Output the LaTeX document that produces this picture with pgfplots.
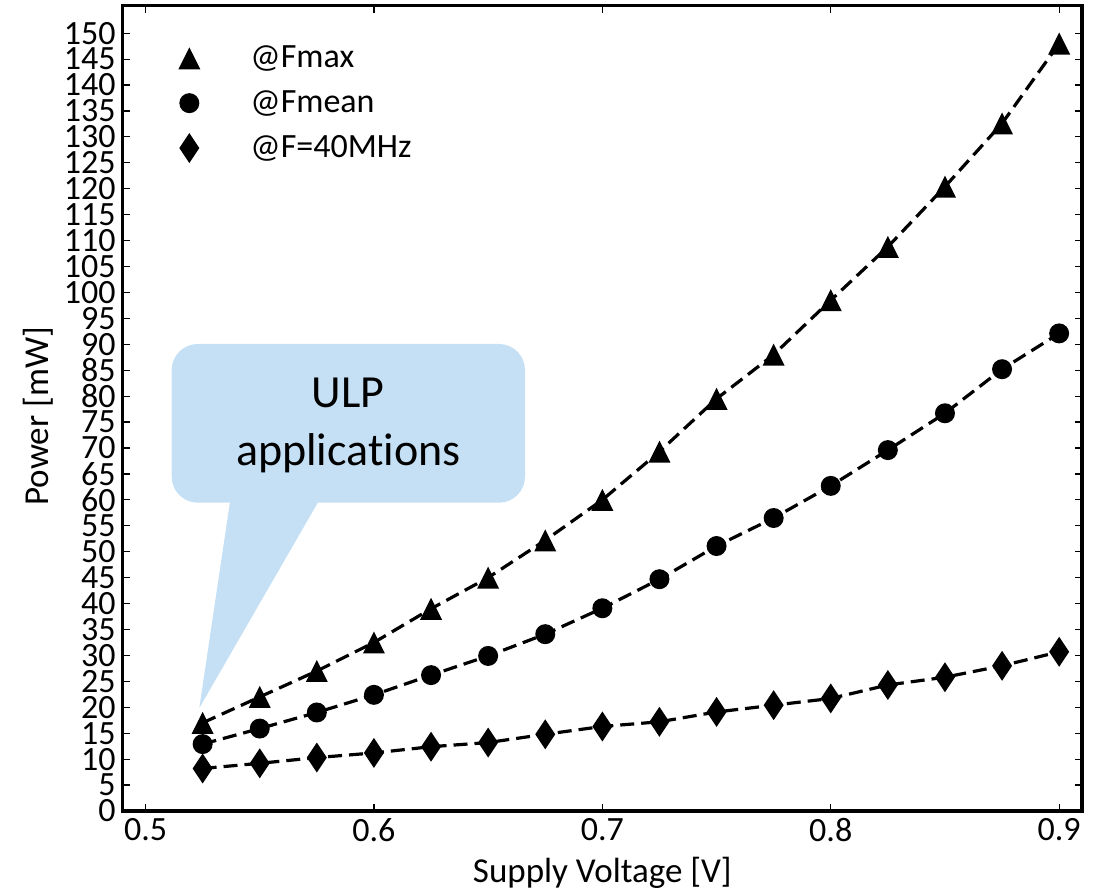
\documentclass[border=0pt]{standalone}
\usepackage{fontspec}
\setmainfont{Carlito}[Ligatures=NoCommon]
\usepackage{pgfplots}
\pgfplotsset{compat=1.18}
\definecolor{callout}{RGB}{197,224,245}
\pgfdeclareplotmark{mtri}{%
  \pgfpathmoveto{\pgfqpoint{0pt}{5.5pt}}%
  \pgfpathlineto{\pgfqpoint{5.5pt}{-5.5pt}}%
  \pgfpathlineto{\pgfqpoint{-5.5pt}{-5.5pt}}%
  \pgfpathclose\pgfusepathqfill}
\pgfdeclareplotmark{mdia}{%
  \pgfpathmoveto{\pgfqpoint{0pt}{7.5pt}}%
  \pgfpathlineto{\pgfqpoint{5pt}{0pt}}%
  \pgfpathlineto{\pgfqpoint{0pt}{-7.5pt}}%
  \pgfpathlineto{\pgfqpoint{-5pt}{0pt}}%
  \pgfpathclose\pgfusepathqfill}
\pgfdeclareplotmark{mcirc}{%
  \pgfpathcircle{\pgfpointorigin}{5pt}\pgfusepathqfill}

\begin{document}
\begin{tikzpicture}
\useasboundingbox (-61.35pt,-41pt) rectangle (489.65pt,405.5pt);
\fill[callout, rounded corners=13pt] (24.5pt,154.15pt) rectangle (201.15pt,233.5pt);
\fill[callout] (53.65pt,154.6pt) -- (38.3pt,51.5pt) -- (97.8pt,154.6pt) -- cycle;
\node[font=\fontsize{23}{29}\selectfont, align=center] at (112.8pt,192.6pt) {ULP\\applications};
\begin{axis}[
  at={(0pt,0pt)}, anchor=south west,
  scale only axis, width=479.65pt, height=402.65pt,
  xmin=0.49, xmax=0.91, ymin=0, ymax=155.3,
  xtick={0.5,0.6,0.7,0.8,0.9},
  xticklabels={0.5,0.6,0.7,0.8,0.9},
  ytick={0,5,...,150},
  tick align=inside,
  major tick length=3.5pt,
  tick style={black, line width=0.6pt},
  axis line style={line width=1.6pt},
  /pgf/number format/assume math mode=true,
  tick label style={font=\fontsize{17}{18}\selectfont},
  y tick label style={inner ysep=0pt},
  label style={font=\fontsize{17.5}{20}\selectfont},
  xlabel={Supply Voltage [V]},
  ylabel={Power [mW]},
  xlabel style={at={(axis description cs:0.5,-0.0882)}, anchor=base},
  ylabel style={at={(axis description cs:-0.0883,0.49)}, anchor=center},
  legend cell align=left,
  legend style={draw=none, fill=none, inner sep=0pt,
    at={(axis description cs:0.0576,0.9555)}, anchor=north west,
    font=\fontsize{17}{18}\selectfont, row sep=6pt,
    /tikz/every odd column/.append style={column sep=23pt}},
  legend image code/.code={\draw[#1] plot coordinates {(0pt,0pt)};},
]
\addplot[black, line width=1.6pt, dash pattern=on 7pt off 3.5pt, mark=mtri, mark options={solid}, forget plot] coordinates {
(0.525,17.0) (0.55,22.0) (0.575,27.0) (0.6,32.5) (0.625,39.0) (0.65,45.0) (0.675,52.2) (0.7,60.0)
(0.725,69.3) (0.75,79.5) (0.775,88.0) (0.8,98.5) (0.825,108.8) (0.85,120.4) (0.875,132.6) (0.9,148.0)};
\addplot[black, line width=1.6pt, dash pattern=on 7pt off 3.5pt, mark=mcirc, mark options={solid}, forget plot] coordinates {
(0.525,12.9) (0.55,15.9) (0.575,19.0) (0.6,22.4) (0.625,26.2) (0.65,29.9) (0.675,34.1) (0.7,39.1)
(0.725,44.7) (0.75,51.1) (0.775,56.5) (0.8,62.7) (0.825,69.6) (0.85,76.7) (0.875,85.2) (0.9,92.1)};
\addplot[black, line width=1.6pt, dash pattern=on 7pt off 3.5pt, mark=mdia, mark options={solid}, forget plot] coordinates {
(0.525,8.2) (0.55,9.2) (0.575,10.3) (0.6,11.2) (0.625,12.4) (0.65,13.2) (0.675,14.8) (0.7,16.3)
(0.725,17.2) (0.75,19.1) (0.775,20.4) (0.8,21.7) (0.825,24.3) (0.85,25.8) (0.875,28.0) (0.9,30.7)};
\addlegendimage{black, only marks, mark=mtri}
\addlegendentry{@Fmax}
\addlegendimage{black, only marks, mark=mcirc}
\addlegendentry{@Fmean}
\addlegendimage{black, only marks, mark=mdia}
\addlegendentry{@F=40MHz}
\end{axis}
\end{tikzpicture}
\end{document}
